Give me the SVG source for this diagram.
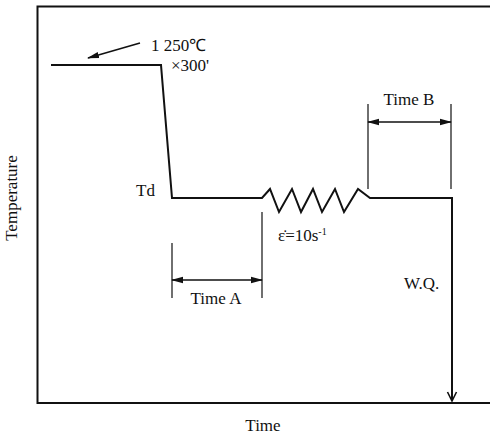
<svg xmlns="http://www.w3.org/2000/svg" width="490" height="438" viewBox="0 0 490 438">
<style>
text{font-family:"Liberation Serif","Times New Roman",serif;fill:#111;font-size:17px}
.axis{stroke:#111;stroke-width:2;fill:none}
.curve{stroke:#111;stroke-width:2;fill:none;stroke-linejoin:miter}
.guide{stroke:#111;stroke-width:1.2;fill:none}
.dim{stroke:#111;stroke-width:1.6;fill:none}
</style>
<defs>
<marker id="ah" markerWidth="12" markerHeight="8" refX="11" refY="4" orient="auto-start-reverse" markerUnits="userSpaceOnUse">
<path d="M0,0.8 L12,4 L0,7.2 Z" fill="#111"/>
</marker>
<marker id="av" markerWidth="12" markerHeight="12" refX="6" refY="11" orient="0" markerUnits="userSpaceOnUse">
<path d="M1.5,2 L6,11 L10.5,2" fill="none" stroke="#111" stroke-width="1.6"/>
</marker>
</defs>
<g id="axes">
<path class="axis" d="M490,6.5 H37.5 V403 H490"/>
<text x="13" y="198" text-anchor="middle" transform="rotate(-90 13 198)" dominant-baseline="middle" font-size="14">Temperature</text>
<text x="263" y="431" text-anchor="middle">Time</text>
</g>
<g id="connectors">
<path class="curve" d="M51,65 H161 L172,198 H262 L270,189 L279,212 L292,189 L301,212 L313,189 L322,212 L335,189 L344,212 L358,189 L370,198 H452"/>
<path class="curve" d="M452,197 V401" marker-end="url(#av)"/>
<path class="dim" d="M140,43 L88,58" marker-end="url(#ah)"/>
<path class="guide" d="M172,243 V298 M262,212 V298"/>
<path class="dim" d="M172,280 H262" marker-start="url(#ah)" marker-end="url(#ah)"/>
<path class="guide" d="M368,104 V189 M451,104 V189"/>
<path class="dim" d="M368,122 H451" marker-start="url(#ah)" marker-end="url(#ah)"/>
</g>
<g id="labels">
<text x="151" y="51" font-size="18">1 250℃</text>
<text x="171" y="71" font-size="18">×300'</text>
<text x="136" y="196" font-size="15">Td</text>
<text x="278" y="241" font-size="16">ε̇=10s<tspan dy="-6" font-size="10">-1</tspan></text>
<text x="216" y="304" text-anchor="middle" font-size="18">Time A</text>
<text x="409" y="105" text-anchor="middle" font-size="18">Time B</text>
<text x="404" y="289" font-size="19">W.Q.</text>
</g>
</svg>
